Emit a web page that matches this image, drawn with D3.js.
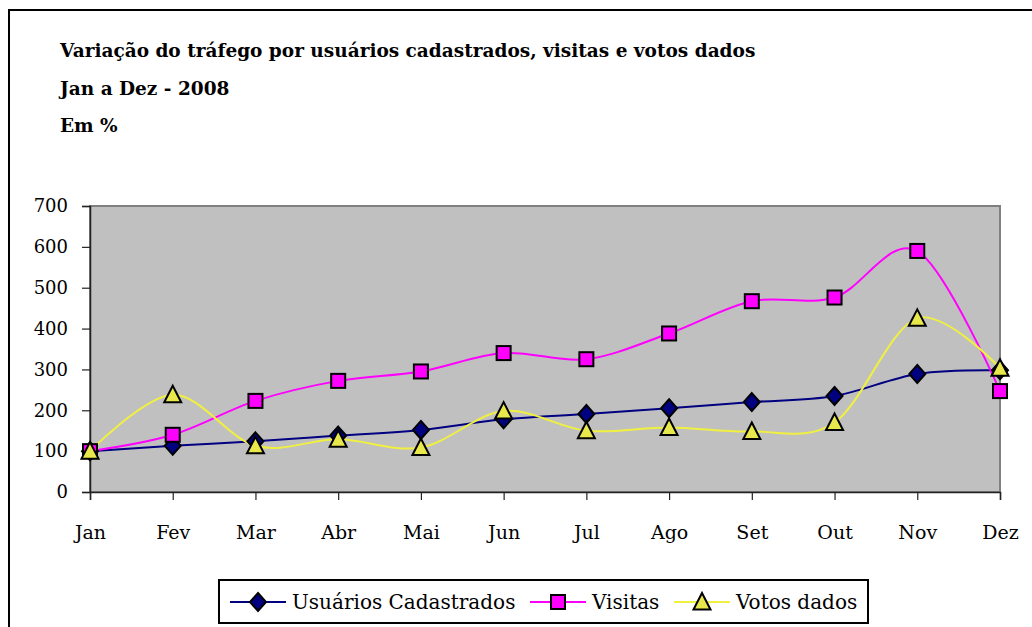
<!DOCTYPE html>
<html>
<head>
<meta charset="utf-8">
<title>Variação do tráfego</title>
<script src="https://d3js.org/d3.v7.min.js"></script>
<style>
  body { margin: 0; background: #fff; }
  text { font-family: "DejaVu Serif", serif; fill: #000; }
</style>
</head>
<body>
<script>
// data
var months = ["Jan", "Fev", "Mar", "Abr", "Mai", "Jun", "Jul", "Ago", "Set", "Out", "Nov", "Dez"];
var usuarios = [100, 113, 124, 138, 152, 178, 191, 205, 220, 235, 289, 298];
var visitas = [100, 140, 223, 272, 295, 340, 325, 388, 467, 476, 590, 247];
var votos = [100, 238, 113, 129, 109, 198, 150, 158, 148, 170, 425, 303];
var yTicks = [0, 100, 200, 300, 400, 500, 600, 700];
var titleLines = ["Variação do tráfego por usuários cadastrados, visitas e votos dados", "Jan a Dez - 2008", "Em %"];

var series = [
  {name: "Usuários Cadastrados", values: usuarios, color: "#000080", fill: "#000080", shape: "diamond"},
  {name: "Visitas", values: visitas, color: "#ff00ff", fill: "#ff00ff", shape: "square"},
  {name: "Votos dados", values: votos, color: "#f0f040", fill: "#e8e84c", shape: "triangle"}
];

var W = 1032, H = 627;
var margin = {top: 206, right: 32, bottom: 135, left: 90};

var svg = d3.select("body").append("svg")
    .attr("width", W)
    .attr("height", H);

// outer frame (runs off the right and bottom edges)
svg.append("rect")
    .attr("x", 9).attr("y", 10)
    .attr("width", W + 20).attr("height", H + 20)
    .attr("fill", "none")
    .attr("stroke", "#000")
    .attr("stroke-width", 2);

// titles
svg.selectAll(".title")
    .data(titleLines)
  .enter().append("text")
    .attr("class", "title")
    .attr("x", 60)
    .attr("y", function(d, i) { return 57 + i * 37.5; })
    .style("font-size", "18.5px")
    .style("font-weight", "bold")
    .text(function(d) { return d; });

var x = d3.scalePoint()
    .domain(months)
    .range([margin.left, W - margin.right]);

var y = d3.scaleLinear()
    .domain([0, 700])
    .range([H - margin.bottom, margin.top]);

// plot area
svg.append("rect")
    .attr("x", margin.left)
    .attr("y", margin.top)
    .attr("width", W - margin.right - margin.left)
    .attr("height", H - margin.bottom - margin.top)
    .attr("fill", "#c0c0c0")
    .attr("stroke", "#808080")
    .attr("stroke-width", 2);

// axes
var yAxis = svg.append("g")
    .attr("transform", "translate(" + margin.left + ",0)")
    .call(d3.axisLeft(y).tickValues(yTicks).tickSize(8).tickPadding(14));

var xAxis = svg.append("g")
    .attr("transform", "translate(0," + (H - margin.bottom) + ")")
    .call(d3.axisBottom(x).tickSize(8).tickPadding(26));

[yAxis, xAxis].forEach(function(g) {
  g.select(".domain").attr("stroke", "#222").attr("stroke-width", 1.5);
  g.selectAll(".tick line").attr("stroke", "#222").attr("stroke-width", 1.2);
  g.selectAll(".tick text")
      .style("font-family", "'DejaVu Serif', serif")
      .style("font-size", "18px")
      .attr("fill", "#000");
});
xAxis.selectAll(".tick text").style("font-size", "19px");

// smoothed lines as in the original spreadsheet chart
var line = d3.line()
    .x(function(d, i) { return x(months[i]); })
    .y(function(d) { return y(d); })
    .curve(d3.curveCatmullRom.alpha(0));

function marker(sel, shape) {
  if (shape === "diamond") {
    sel.append("path").attr("d", "M0,-9L8,0L0,9L-8,0Z");
  } else if (shape === "square") {
    sel.append("rect").attr("x", -7).attr("y", -7).attr("width", 14).attr("height", 14);
  } else {
    sel.append("path").attr("d", "M0,-9L8.5,7.5L-8.5,7.5Z");
  }
}

series.forEach(function(s) {
  svg.append("path")
      .datum(s.values)
      .attr("fill", "none")
      .attr("stroke", s.color)
      .attr("stroke-width", 2)
      .attr("d", line);
});

series.forEach(function(s) {
  svg.append("g").selectAll("g")
      .data(s.values)
    .enter().append("g")
      .attr("transform", function(d, i) { return "translate(" + x(months[i]) + "," + y(d) + ")"; })
      .each(function() { marker(d3.select(this), s.shape); })
      .selectAll("path, rect")
        .attr("fill", s.fill)
        .attr("stroke", "#000")
        .attr("stroke-width", 2);
});

// legend
var legend = svg.append("g");
legend.append("rect")
    .attr("x", 219).attr("y", 580)
    .attr("width", 649).attr("height", 43)
    .attr("fill", "#fff")
    .attr("stroke", "#000")
    .attr("stroke-width", 2);

var legendX = [230, 530, 674];
series.forEach(function(s, i) {
  var g = legend.append("g").attr("transform", "translate(" + legendX[i] + ",602)");
  g.append("line")
      .attr("x1", 0).attr("x2", 56)
      .attr("stroke", s.color)
      .attr("stroke-width", 2);
  var m = g.append("g").attr("transform", "translate(28,0)");
  marker(m, s.shape);
  m.selectAll("path, rect")
      .attr("fill", s.fill)
      .attr("stroke", "#000")
      .attr("stroke-width", 2);
  g.append("text")
      .attr("x", 62)
      .attr("y", 7)
      .style("font-size", "20px")
      .text(s.name);
});
</script>
</body>
</html>
